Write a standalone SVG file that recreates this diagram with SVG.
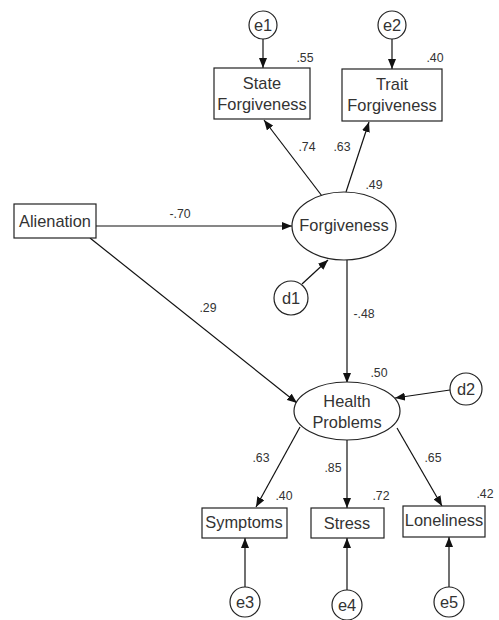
<svg xmlns="http://www.w3.org/2000/svg" width="499" height="620" viewBox="0 0 499 620">
<defs>
<marker id="arr" markerUnits="userSpaceOnUse" markerWidth="10" markerHeight="8" viewBox="0 0 10 8" refX="10" refY="4" orient="auto">
<path d="M0,0 L10,4 L0,8 Z" fill="#111"/>
</marker>
<style>
.box{fill:#fff;stroke:#222;stroke-width:1.2}
.lbl{font-family:"Liberation Sans",Arial,sans-serif;font-size:16.4px;fill:#333;text-anchor:middle}
.num{font-family:"Liberation Sans",Arial,sans-serif;font-size:12.3px;fill:#333;text-anchor:middle}
.edge{stroke:#111;stroke-width:1.2;fill:none;marker-end:url(#arr)}
</style>
</defs>
<rect width="499" height="620" fill="#fff"/>
<g id="connectors">
<line class="edge" x1="263" y1="39" x2="263" y2="68"/>
<line class="edge" x1="392" y1="39" x2="392" y2="69"/>
<line class="edge" x1="322" y1="196" x2="264" y2="120"/>
<line class="edge" x1="346" y1="192" x2="369" y2="122"/>
<line class="edge" x1="96" y1="226" x2="292" y2="226"/>
<line class="edge" x1="302" y1="284" x2="328" y2="260"/>
<line class="edge" x1="347" y1="260" x2="347" y2="383"/>
<line class="edge" x1="90" y1="238" x2="297" y2="403"/>
<line class="edge" x1="450" y1="390" x2="395" y2="398"/>
<line class="edge" x1="300" y1="427" x2="256" y2="507"/>
<line class="edge" x1="347" y1="440" x2="347" y2="508"/>
<line class="edge" x1="397" y1="428" x2="442" y2="506"/>
<line class="edge" x1="245" y1="587" x2="245" y2="538"/>
<line class="edge" x1="347" y1="590" x2="347" y2="538"/>
<line class="edge" x1="449" y1="587" x2="449" y2="537"/>
</g>
<g id="labels">
<text class="num" x="305" y="62">.55</text>
<text class="num" x="435" y="62">.40</text>
<text class="num" x="307" y="151">.74</text>
<text class="num" x="342" y="151">.63</text>
<text class="num" x="374" y="189">.49</text>
<text class="num" x="180" y="218">-.70</text>
<text class="num" x="208" y="312">.29</text>
<text class="num" x="364" y="318">-.48</text>
<text class="num" x="379" y="377">.50</text>
<text class="num" x="261" y="462">.63</text>
<text class="num" x="284" y="500">.40</text>
<text class="num" x="333" y="472">.85</text>
<text class="num" x="381" y="500">.72</text>
<text class="num" x="433" y="462">.65</text>
<text class="num" x="485" y="498">.42</text>
</g>
<g id="e1"><circle class="box" cx="263" cy="25" r="14"/><text class="lbl" x="263" y="31">e1</text></g>
<g id="e2"><circle class="box" cx="392" cy="25" r="14"/><text class="lbl" x="392" y="31">e2</text></g>
<g id="state"><rect class="box" x="214" y="68" width="96" height="51"/><text class="lbl" x="262" y="89">State</text><text class="lbl" x="262" y="110">Forgiveness</text></g>
<g id="trait"><rect class="box" x="342" y="69" width="100" height="52"/><text class="lbl" x="392" y="90">Trait</text><text class="lbl" x="392" y="111">Forgiveness</text></g>
<g id="alienation"><rect class="box" x="14" y="204" width="82" height="34"/><text class="lbl" x="55" y="227">Alienation</text></g>
<g id="forgiveness"><ellipse class="box" cx="344" cy="226" rx="52" ry="34"/><text class="lbl" x="344" y="231">Forgiveness</text></g>
<g id="d1"><circle class="box" cx="291" cy="298" r="17"/><text class="lbl" x="291" y="304">d1</text></g>
<g id="health"><ellipse class="box" cx="347" cy="411" rx="53" ry="29"/><text class="lbl" x="347" y="407">Health</text><text class="lbl" x="347" y="428">Problems</text></g>
<g id="d2"><circle class="box" cx="466" cy="389" r="16"/><text class="lbl" x="466" y="395">d2</text></g>
<g id="symptoms"><rect class="box" x="202" y="508" width="85" height="30"/><text class="lbl" x="244" y="528">Symptoms</text></g>
<g id="stress"><rect class="box" x="311" y="508" width="73" height="30"/><text class="lbl" x="347" y="529">Stress</text></g>
<g id="loneliness"><rect class="box" x="403" y="506" width="82" height="31"/><text class="lbl" x="444" y="526">Loneliness</text></g>
<g id="e3"><circle class="box" cx="245" cy="602" r="15"/><text class="lbl" x="245" y="608">e3</text></g>
<g id="e4"><circle class="box" cx="347" cy="605" r="15"/><text class="lbl" x="347" y="611">e4</text></g>
<g id="e5"><circle class="box" cx="449" cy="602" r="15"/><text class="lbl" x="449" y="608">e5</text></g>
</svg>
